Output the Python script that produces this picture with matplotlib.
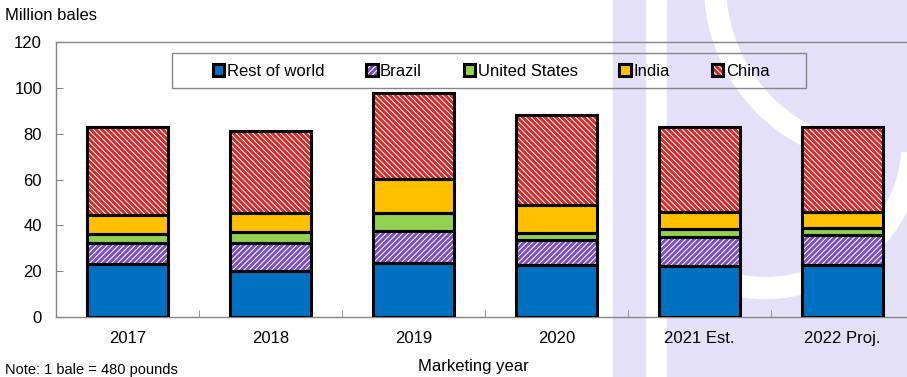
"""Stacked bar chart of world cotton stocks by holder, marketing years 2017-2022."""

import matplotlib
matplotlib.use("Agg")
import matplotlib.pyplot as plt
from matplotlib.patches import Rectangle, Arc
from matplotlib.transforms import Affine2D
from matplotlib.legend_handler import HandlerTuple

plt.rcParams["font.family"] = ["Liberation Sans", "DejaVu Sans"]
plt.rcParams["hatch.linewidth"] = 2.1

W, H = 907, 377

# ---------------------------------------------------------------------------
# Data (million bales)
# ---------------------------------------------------------------------------
years = ["2017", "2018", "2019", "2020", "2021 Est.", "2022 Proj."]
rest_of_world = [23.1, 19.9, 23.4, 22.7, 22.3, 22.7]
brazil = [9.1, 12.5, 14.3, 10.9, 12.7, 13.1]
united_states = [4.0, 4.7, 7.6, 3.2, 3.3, 2.9]
india = [8.3, 8.4, 15.1, 11.9, 7.7, 7.3]
china = [38.3, 35.8, 37.2, 39.3, 37.0, 37.0]

series = [
    ("Rest of world", rest_of_world, "#0070C0", "#0070C0", None),
    ("Brazil", brazil, "white", "#7B4FBF", "//////"),
    ("United States", united_states, "#92D050", "#92D050", None),
    ("India", india, "#FFC000", "#FFC000", None),
    ("China", china, "white", "#D42A2A", "\\" * 6),
]

fig = plt.figure(figsize=(W / 100, H / 100), dpi=100)
fig.patch.set_facecolor("white")

# pixel coords (origin top-left) -> figure
px = Affine2D().scale(1 / W, -1 / H).translate(0, 1) + fig.transFigure

# faint lavender logo behind the chart
lav = "#E4E0F7"
fig.patches.append(Rectangle((667, 0), 260, H, transform=px, color=lav, zorder=-3))
fig.patches.append(Arc((765, 140), 296, 296, theta1=5, theta2=175, transform=px,
                       edgecolor="white", linewidth=16, zorder=-2))
fig.patches.append(Arc((885, -15), 340, 340, theta1=90, theta2=180, transform=px,
                       edgecolor="white", linewidth=16, zorder=-2))
fig.patches.append(Rectangle((613, 0), 32, H, transform=px, color=lav, zorder=-1))

ax = fig.add_axes([56 / W, 1 - 317 / H, 858 / W, 275 / H])
ax.set_facecolor("none")

x = range(len(years))
bottom = [0.0] * len(years)
handles = []
for name, vals, face, edge, hatch in series:
    fill = ax.bar(x, vals, 0.56, bottom=bottom, color=face, edgecolor=edge,
                  hatch=hatch, linewidth=0, zorder=2)
    outline = ax.bar(x, vals, 0.56, bottom=bottom, fill=False,
                     edgecolor="black", linewidth=2.2, zorder=3)
    handles.append((fill[0], outline[0]))
    bottom = [b + v for b, v in zip(bottom, vals)]

ax.set_xlim(-0.5, 5.5)
ax.set_ylim(0, 120)
ax.set_yticks(range(0, 121, 20))
ax.set_xticks(list(x))
ax.set_xticklabels(years)
ax.set_xticks([i + 0.5 for i in range(5)], minor=True)

for side in ["left", "top", "bottom", "right"]:
    ax.spines[side].set_color("#868686")
    ax.spines[side].set_linewidth(1)

ax.tick_params(axis="y", direction="in", length=5, color="#868686",
               labelsize=12, pad=10)
ax.tick_params(axis="x", which="major", length=0, labelsize=12, pad=10)
ax.tick_params(axis="x", which="minor", direction="in", length=5,
               color="#868686")

# legend box is wider than its entries, so the frame is drawn on its own
fig.patches.append(Rectangle((172, 52.7), 634, 35, transform=px, fill=False,
                             edgecolor="#868686", linewidth=1, zorder=4))
leg = fig.legend(
    handles, [s[0] for s in series],
    handler_map={tuple: HandlerTuple(ndivide=1)},
    loc="center", bbox_to_anchor=(491 / W, 1 - 71 / H),
    ncol=5, fontsize=12, frameon=False,
    handlelength=0.7, handleheight=0.7, handletextpad=0.15,
    columnspacing=2.5,
)

fig.text(5 / W, 1 - 16 / H, "Million bales", fontsize=12, va="center")
fig.text(473 / W, 1 - 366 / H, "Marketing year", fontsize=12,
         ha="center", va="center")
fig.text(5 / W, 1 - 363 / H, "Note: 1 bale = 480 pounds", fontsize=10.5,
         va="top")

fig.savefig("out.png", dpi=100)
